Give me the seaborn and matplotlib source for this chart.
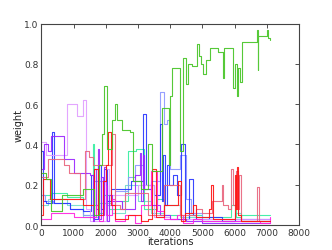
import pandas as pd
import matplotlib
matplotlib.use("Agg")
import matplotlib.pyplot as plt
import seaborn as sns

# -------------------------------
# Data (step series)
# -------------------------------
green_x = [0, 150, 300, 650, 1300, 1650, 1800, 1870, 1950, 2030, 2190, 2300, 2360, 2500, 2760, 2850,
           3100, 3300, 3450, 3740, 3950, 4000, 4050, 4310, 4410, 4500, 4560, 4670, 4820, 4900, 4950,
           5030, 5100, 5240, 5500, 5640, 5660, 5960, 6000, 6080, 6120, 6170, 6220, 6690, 6720, 6740,
           7000, 7050, 7100]
green_y = [0.26, 0.23, 0.07, 0.15, 0.18, 0.05, 0.3, 0.45, 0.69, 0.38, 0.52, 0.6, 0.52, 0.47, 0.46, 0.22,
           0.18, 0.4, 0.27, 0.58, 0.3, 0.64, 0.78, 0.37, 0.83, 0.7, 0.8, 0.79, 0.9, 0.84, 0.8,
           0.75, 0.82, 0.88, 0.86, 0.73, 0.88, 0.68, 0.8, 0.64, 0.78, 0.71, 0.91, 0.97, 0.77, 0.94,
           0.97, 0.93, 0.92]

red_x = [0, 60, 270, 800, 1300, 1650, 1750, 1900, 2000, 2080, 2150, 2300, 2700, 3100, 3300, 3450,
         3550, 3800, 4250, 4330, 4450, 4700, 4800, 5200, 5280, 5330, 6000, 6040, 6080, 6120, 6200, 7100]
red_y = [0.05, 0.23, 0.13, 0.13, 0.1, 0.28, 0.05, 0.22, 0.3, 0.46, 0.1, 0.03, 0.05, 0.02, 0.03, 0.28,
         0.04, 0.1, 0.22, 0.02, 0.06, 0.1, 0.04, 0.08, 0.2, 0.03, 0.25, 0.08, 0.29, 0.05, 0.02, 0.02]

pink_x = [0, 200, 700, 850, 1200, 1360, 1480, 1600, 2200, 2300, 2450, 2600, 3300, 3800, 4300,
          4800, 5000, 5300, 5600, 5650, 5800, 5900, 5950, 6050, 6100, 6150, 6200, 6700, 6750, 7100]
pink_y = [0.24, 0.33, 0.3, 0.26, 0.13, 0.37, 0.34, 0.3, 0.45, 0.1, 0.08, 0.16, 0.05, 0.2, 0.05,
          0.08, 0.06, 0.12, 0.2, 0.1, 0.08, 0.28, 0.1, 0.27, 0.08, 0.25, 0.02, 0.19, 0.02, 0.02]

blue_x = [0, 50, 150, 320, 380, 900, 1300, 1550, 1650, 1750, 1850, 1950, 2050, 2150, 2300, 2800,
          3150, 3250, 3500, 3700, 3740, 3780, 3850, 3900, 3950, 4100, 4200, 4350, 4450, 4600, 4700,
          4800, 5200, 5600, 6000, 7100]
blue_y = [0.37, 0.12, 0.11, 0.46, 0.11, 0.08, 0.07, 0.25, 0.03, 0.3, 0.08, 0.28, 0.12, 0.18, 0.18, 0.22,
          0.55, 0.2, 0.15, 0.5, 0.12, 0.35, 0.1, 0.3, 0.2, 0.25, 0.15, 0.4, 0.03, 0.23, 0.05,
          0.03, 0.04, 0.02, 0.03, 0.03]

lightblue_x = [0, 100, 350, 900, 1300, 1600, 2000, 2300, 2700, 2900, 3200, 3400, 3700, 3800, 3900,
               4000, 4300, 4500, 4650, 5000, 7100]
lightblue_y = [0.15, 0.12, 0.11, 0.08, 0.05, 0.22, 0.1, 0.17, 0.24, 0.3, 0.18, 0.22, 0.66, 0.5, 0.52,
               0.28, 0.35, 0.13, 0.06, 0.02, 0.02]

purple_x = [0, 80, 200, 300, 700, 1000, 1500, 1600, 1650, 1700, 1750, 1800, 1850, 1900, 1950, 2000,
            2050, 2100, 2200, 2500, 2900, 3050, 3100, 3150, 3200, 3400, 3700, 4000, 4500, 5000, 7100]
purple_y = [0.28, 0.4, 0.37, 0.44, 0.33, 0.26, 0.25, 0.02, 0.28, 0.08, 0.38, 0.03, 0.24, 0.05, 0.29, 0.2,
            0.02, 0.15, 0.12, 0.08, 0.25, 0.36, 0.12, 0.35, 0.18, 0.1, 0.05, 0.03, 0.02, 0.01, 0.01]

violet_x = [0, 150, 800, 1100, 1300, 1400, 1500, 2000, 2100, 3000, 3500, 4000, 7100]
violet_y = [0.41, 0.35, 0.6, 0.54, 0.62, 0.08, 0.02, 0.28, 0.15, 0.2, 0.04, 0.03, 0.03]

magenta_x = [0, 300, 1000, 1700, 1800, 1900, 2000, 2200, 2300, 2600, 2900, 3100, 3400, 3600, 3800,
             4200, 4400, 4700, 5000, 6800, 7100]
magenta_y = [0.03, 0.06, 0.04, 0.1, 0.02, 0.22, 0.05, 0.13, 0.02, 0.05, 0.01, 0.1, 0.27, 0.07, 0.03,
             0.05, 0.01, 0.03, 0.02, 0.01, 0.04]

aqua_x = [0, 300, 800, 1300, 1600, 1650, 1750, 1900, 2100, 2500, 2700, 2950, 3200, 3600, 3800,
          4200, 4600, 5000, 5900, 6050, 6200, 7100]
aqua_y = [0.15, 0.16, 0.14, 0.05, 0.4, 0.1, 0.06, 0.15, 0.08, 0.12, 0.37, 0.38, 0.08, 0.13, 0.05,
          0.03, 0.05, 0.04, 0.1, 0.04, 0.05, 0.05]

cyan_x = [0, 200, 800, 1300, 1800, 2200, 2600, 3000, 3400, 3800, 4300, 5000, 6000, 6200, 7100]
cyan_y = [0.1, 0.13, 0.1, 0.04, 0.11, 0.06, 0.2, 0.12, 0.06, 0.1, 0.04, 0.02, 0.06, 0.02, 0.02]

series = [
    (cyan_x, cyan_y, "#70ddcc"),
    (aqua_x, aqua_y, "#33eea0"),
    (lightblue_x, lightblue_y, "#8c96ff"),
    (blue_x, blue_y, "#2633ff"),
    (violet_x, violet_y, "#e09cff"),
    (purple_x, purple_y, "#9a22ff"),
    (magenta_x, magenta_y, "#ff22e0"),
    (pink_x, pink_y, "#e8647c"),
    (red_x, red_y, "#ff1010"),
    (green_x, green_y, "#44c422"),
]

# -------------------------------
# Plot
# -------------------------------
sns.set_style("white")
plt.rcParams['font.family'] = ['DejaVu Sans']

fig = plt.figure(figsize=(3.32, 2.51), dpi=100)
ax = fig.add_subplot(111)
fig.subplots_adjust(left=0.1244, right=0.9006, bottom=0.0996, top=0.9016)

for xs, ys, color in series:
    df = pd.DataFrame({"iterations": xs, "weight": ys})
    sns.lineplot(
        data=df,
        x="iterations",
        y="weight",
        color=color,
        drawstyle="steps-post",
        estimator=None,
        sort=False,
        linewidth=0.8,
        alpha=0.9,
        ax=ax
    )

ax.set_xlim(0, 8000)
ax.set_ylim(0, 1.0)
ax.set_xticks(range(0, 8001, 1000))
ax.set_yticks([0.0, 0.2, 0.4, 0.6, 0.8, 1.0])
ax.set_yticklabels(["0.0", "0.2", "0.4", "0.6", "0.8", "1.0"])

ax.tick_params(direction="in", top=True, right=True, length=3, width=0.6,
               labelsize=6.5, colors="#333333", pad=2)
for spine in ax.spines.values():
    spine.set_color("#444444")
    spine.set_linewidth(0.8)

ax.set_xlabel("iterations", fontsize=7, color="#222222")
ax.set_ylabel("weight", fontsize=7, color="#222222")
ax.xaxis.set_label_coords(0.5, -0.055)
ax.yaxis.set_label_coords(-0.07, 0.5)

plt.savefig("out.png", dpi=100)
